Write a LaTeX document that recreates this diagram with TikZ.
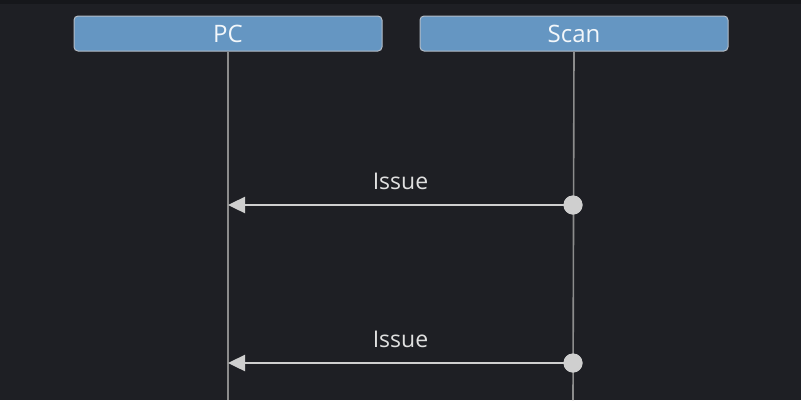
\documentclass[tikz,border=0pt]{standalone}
\usepackage{fontspec}
\setmainfont{Open Sans}
\usepackage{tikz}
\usetikzlibrary{arrows.meta, positioning}
\definecolor{bgdark}{HTML}{1E1F24}
\definecolor{topbar}{HTML}{16171B}
\definecolor{actorfill}{HTML}{6596C2}
\definecolor{actorline}{HTML}{B4BCC6}
\definecolor{lifegray}{HTML}{8C8C8C}
\definecolor{msggray}{HTML}{CFCFCF}
\tikzstyle{actor} = [rectangle, rounded corners=4pt, minimum width=308pt, minimum height=35pt, inner sep=0pt, text centered, draw=actorline, line width=1pt, fill=actorfill, text=white!92!actorfill, font=\fontsize{24}{28}\selectfont]
\tikzstyle{lifeline} = [lifegray, line width=1.6pt]
\tikzstyle{msg} = [msggray, line width=2.4pt, -{Triangle[length=17pt,width=16pt]}]
\tikzstyle{dot} = [circle, fill=msggray, minimum size=19pt, inner sep=0pt]
\tikzstyle{msglabel} = [text=white!88!black, font=\fontsize{23}{27}\selectfont]

\begin{document}
\begin{tikzpicture}[x=1pt, y=-1pt]
\fill[bgdark] (0,0) rectangle (801,400);
\fill[topbar] (0,0) rectangle (801,4);
\useasboundingbox (0,0) rectangle (801,400);

\node (pc) [actor] at (228,33.5) {PC};
\node (scan) [actor, right=37pt of pc] {Scan};

\coordinate (pcend) at (228,400);
\coordinate (scanend) at (573,400);
\draw [lifeline] (pc.south) -- (pcend);
\draw [lifeline] (scan.south) -- (scanend);

% messages
\coordinate (pc1) at (228,205);
\coordinate (pc2) at (228,363);
\node (scan1) [dot] at (573,205) {};
\node (scan2) [dot] at (573,363) {};
\draw [msg] (scan1.center) -- node[msglabel, above=11pt]{Issue} (pc1);
\draw [msg] (scan2.center) -- node[msglabel, above=11pt]{Issue} (pc2);
\node [dot] at (scan1) {};
\node [dot] at (scan2) {};
\end{tikzpicture}
\end{document}
